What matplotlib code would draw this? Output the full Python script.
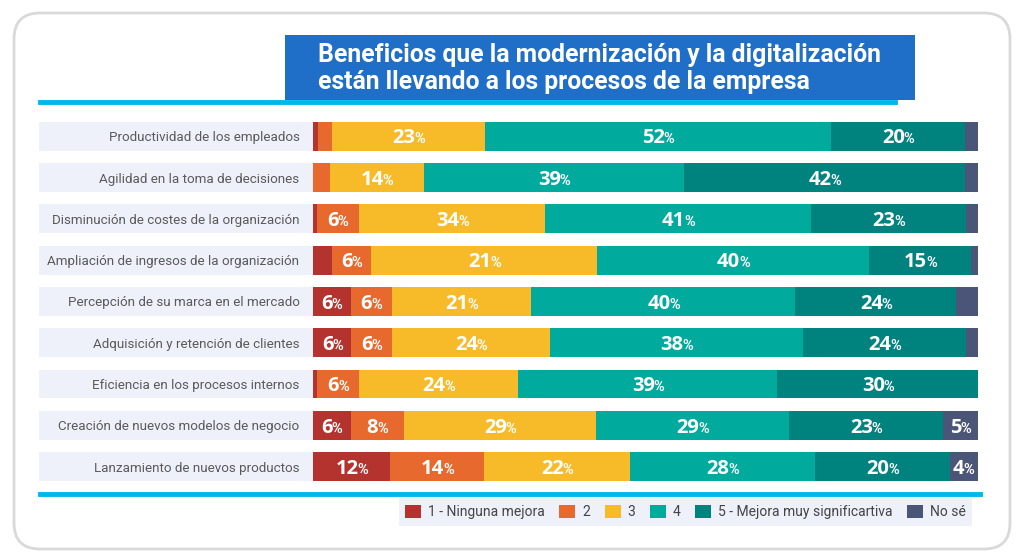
import matplotlib
matplotlib.use('Agg')
import matplotlib.pyplot as plt
from matplotlib import font_manager
from matplotlib.patches import Rectangle, FancyBboxPatch, Patch
from matplotlib.lines import Line2D
from matplotlib.transforms import IdentityTransform, blended_transform_factory

# fuentes disponibles
names = {f.name for f in font_manager.fontManager.ttflist}
narrow = 'Liberation Sans Narrow' if 'Liberation Sans Narrow' in names else 'Roboto'

W, H = 1024, 559

categories = [
    'Productividad de los empleados',
    'Agilidad en la toma de decisiones',
    'Disminución de costes de la organización',
    'Ampliación de ingresos de la organización',
    'Percepción de su marca en el mercado',
    'Adquisición y retención de clientes',
    'Eficiencia en los procesos internos',
    'Creación de nuevos modelos de negocio',
    'Lanzamiento de nuevos productos',
]

# anchos de los segmentos (%)
ninguna = [0.75, 0.0, 0.5, 2.8, 5.6, 5.7, 0.6, 5.6, 11.6]
dos = [2.0, 2.5, 6.4, 5.9, 6.2, 6.1, 6.3, 8.0, 14.0]
tres = [23.0, 14.1, 28.0, 34.0, 21.0, 23.8, 23.9, 28.9, 22.0]
cuatro = [52.1, 39.1, 39.9, 40.9, 39.7, 38.1, 39.0, 29.0, 27.8]
cinco = [20.1, 42.3, 23.3, 15.3, 24.2, 24.4, 30.2, 23.2, 20.3]
no_se = [2.1, 2.0, 2.0, 1.0, 3.3, 2.0, 0.0, 5.3, 4.2]

# etiquetas escritas en cada segmento
lab_ninguna = ['', '', '', '', '6', '6', '', '6', '12']
lab_dos = ['', '', '6', '6', '6', '6', '6', '8', '14']
lab_tres = ['23', '14', '34', '21', '21', '24', '24', '29', '22']
lab_cuatro = ['52', '39', '41', '40', '40', '38', '39', '29', '28']
lab_cinco = ['20', '42', '23', '15', '24', '24', '30', '23', '20']
lab_no_se = ['', '', '', '', '', '', '', '5', '4']

series_names = ['1 - Ninguna mejora', '2', '3', '4', '5 - Mejora muy significartiva', 'No sé']
series = [ninguna, dos, tres, cuatro, cinco, no_se]
series_labels = [lab_ninguna, lab_dos, lab_tres, lab_cuatro, lab_cinco, lab_no_se]
colors = ['#b5332f', '#e8692d', '#f7bb2a', '#00ab9e', '#00837f', '#4b5577']

fig = plt.figure(figsize=(W / 100, H / 100), dpi=100)
fig.patch.set_facecolor('white')
px = IdentityTransform()

# marco redondeado
frame = FancyBboxPatch((14, 10), 996, 536, boxstyle='round,pad=0,rounding_size=26',
                       transform=px, fc='white', ec='#d9d9d9', lw=2, zorder=-2)
fig.add_artist(frame)

# ejes de las barras
x0, x1 = 313.3, 978.3
row_top = 136.2 - 20.65
row_h = 41.3 * 9
ax = fig.add_axes([x0 / W, 1 - (row_top + row_h) / H, (x1 - x0) / W, row_h / H])
ax.patch.set_visible(False)

y = list(range(len(categories)))

# bandas de fondo de cada fila
band_tr = blended_transform_factory(px, ax.transData)
for i in y:
    fig.add_artist(Rectangle((39.3, i - 0.35), x1 - 39.3, 0.7, transform=band_tr,
                             fc='#eef0fa', ec='none', zorder=-1))

left = [0.0] * len(categories)
for vals, labs, col in zip(series, series_labels, colors):
    ax.barh(y, vals, left=left, height=0.7, color=col, edgecolor='none')
    for i, (v, lab) in enumerate(zip(vals, labs)):
        if lab:
            xc = left[i] + v / 2
            off = (len(lab) * 12 - 10) / 2 * 0.72
            ax.annotate(lab, (xc, i), xytext=(off, -5.2), textcoords='offset points',
                        ha='right', va='baseline', color='white', fontsize=14.5,
                        fontweight='bold', family='Open Sans')
            ax.annotate('%', (xc, i), xytext=(off - 0.8, -5.2), textcoords='offset points',
                        ha='left', va='baseline', color='white', fontsize=10.5,
                        fontweight='semibold', family=narrow)
    left = [l + v for l, v in zip(left, vals)]

ax.set_xlim(0, 100)
ax.set_ylim(8.5, -0.5)
ax.set_xticks([])
ax.set_yticks(y, categories)
ax.tick_params(axis='y', length=0, pad=10)
for lbl in ax.get_yticklabels():
    lbl.set_family(narrow)
    lbl.set_fontsize(9.6)
    lbl.set_color('#5a5a5a')
for s in ax.spines.values():
    s.set_visible(False)

# título
fig.add_artist(Rectangle((285, H - 100), 630, 65, transform=px, fc='#1f6fc8', ec='none', zorder=-1))
fig.text(318 / W, 1 - 68.5 / H,
         'Beneficios que la modernización y la digitalización\nestán llevando a los procesos de la empresa',
         ha='left', va='center', color='white', fontsize=17.8, fontweight='bold',
         family=narrow, linespacing=1.15)

# líneas cian
fig.add_artist(Line2D([40, 895], [H - 102, H - 102], transform=px, color='#00b7ec', lw=3.5))
fig.add_artist(Line2D([40, 980], [H - 494, H - 494], transform=px, color='#00b7ec', lw=3.5))

# leyenda
handles = [Patch(fc=c, ec='none') for c in colors]
leg = fig.legend(handles, series_names, loc='center', bbox_to_anchor=(685.5 / W, 1 - 512 / H),
                 ncol=6, frameon=True, fancybox=False, handlelength=1.15, handleheight=1.15,
                 handletextpad=0.5, columnspacing=1.05, borderpad=0.45, borderaxespad=0,
                 prop={'family': narrow, 'size': 10})
leg.get_frame().set_facecolor('#eef0fa')
leg.get_frame().set_edgecolor('none')
leg.get_frame().set_alpha(1)
for t in leg.get_texts():
    t.set_color('#444444')

fig.savefig('out.png', dpi=100)
